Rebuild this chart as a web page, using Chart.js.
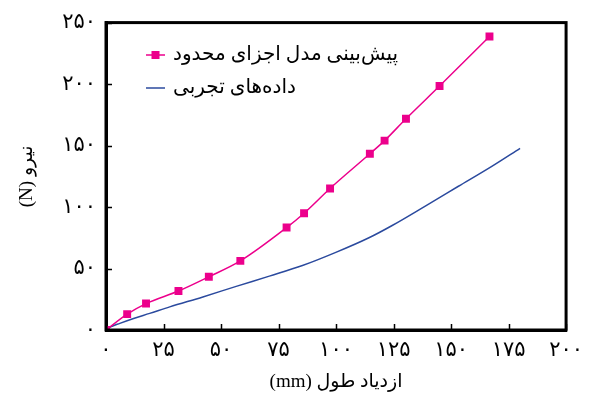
<!DOCTYPE html>
<html>
<head>
<meta charset="utf-8">
<script src="https://cdn.jsdelivr.net/npm/chart.js@4/dist/chart.umd.min.js"></script>
<style>
  html, body { margin: 0; padding: 0; background: #fff; }
  #wrap { width: 591px; height: 393px; }
</style>
</head>
<body>
<div id="wrap"><canvas id="c"></canvas></div>
<script>
// Finite-element prediction (force vs. elongation)
const femX = [0, 9.2, 17.4, 31.5, 44.7, 58.4, 78.5, 86.1, 97.4, 114.7, 121.1, 130.4, 145.0, 166.7];
const femY = [0, 12.9, 21.5, 31.7, 43.3, 56.2, 83.3, 95.0, 115.1, 143.3, 154.0, 171.8, 198.4, 238.7];

// Experimental curve
const testX = [0, 2, 6, 12, 19, 27.7, 42.1, 56.6, 71.0, 85.4, 99.9, 114.3, 124.4, 138.8, 153.2, 167.7, 180.0];
const testY = [0, 2.5, 5.4, 9.4, 13.5, 18.8, 26.9, 35.5, 43.8, 52.4, 63.1, 75.0, 85.0, 100.8, 116.9, 133.1, 147.8];

// Axes
const xTicks = [0, 25, 50, 75, 100, 125, 150, 175, 200];
const xTickLabels = ['۰', '۲۵', '۵۰', '۷۵', '۱۰۰', '۱۲۵', '۱۵۰', '۱۷۵', '۲۰۰'];
const yTicks = [0, 50, 100, 150, 200, 250];
const yTickLabels = ['۰', '۵۰', '۱۰۰', '۱۵۰', '۲۰۰', '۲۵۰'];

const seriesNames = ['پیش‌بینی مدل اجزای محدود', 'داده‌های تجربی'];
const xTitle = '(mm) ازدیاد طول';
const yTitle = '(N) نیرو';

const FONT = "'Liberation Serif', 'DejaVu Sans', serif";
const PINK = '#EC008C';
const BLUE = '#2B4A9E';

const toPoints = (xs, ys) => xs.map((x, i) => ({ x: x, y: ys[i] }));

// Frame, inward tick marks and the in-plot legend
const decorations = {
  id: 'decorations',
  afterDraw(chart) {
    const { ctx, chartArea: a, scales } = chart;
    ctx.save();
    ctx.strokeStyle = '#000';
    ctx.lineWidth = 1.5;
    ctx.beginPath();
    xTicks.forEach(v => {
      const px = Math.round(scales.x.getPixelForValue(v)) + 0.5;
      ctx.moveTo(px, a.bottom);
      ctx.lineTo(px, a.bottom - 6);
    });
    yTicks.forEach(v => {
      const py = Math.round(scales.y.getPixelForValue(v)) + 0.5;
      ctx.moveTo(a.left, py);
      ctx.lineTo(a.left + 6, py);
    });
    ctx.stroke();

    ctx.lineWidth = 3;
    ctx.strokeRect(a.left, a.top, a.right - a.left, a.bottom - a.top);

    // legend
    const rows = [55, 88];
    chart.data.datasets.forEach((ds, i) => {
      const y = rows[i];
      ctx.strokeStyle = ds.borderColor;
      ctx.lineWidth = 1.5;
      ctx.beginPath();
      ctx.moveTo(146, y);
      ctx.lineTo(165, y);
      ctx.stroke();
      if (ds.pointRadius > 0) {
        ctx.fillStyle = ds.backgroundColor;
        ctx.fillRect(151.5, y - 4, 8, 8);
      }
      ctx.fillStyle = '#000';
      ctx.font = '20px ' + FONT;
      ctx.direction = 'rtl';
      ctx.textAlign = 'left';
      ctx.textBaseline = 'middle';
      ctx.fillText(ds.label, 173, y);
    });
    ctx.restore();
  }
};

new Chart(document.getElementById('c'), {
  type: 'scatter',
  data: {
    datasets: [
      {
        label: seriesNames[0],
        data: toPoints(femX, femY),
        showLine: true,
        borderColor: PINK,
        backgroundColor: PINK,
        borderWidth: 1.5,
        pointStyle: 'rect',
        pointRadius: 5.6,
        pointBorderWidth: 0,
        cubicInterpolationMode: 'monotone'
      },
      {
        label: seriesNames[1],
        data: toPoints(testX, testY),
        showLine: true,
        borderColor: BLUE,
        backgroundColor: BLUE,
        borderWidth: 1.5,
        pointRadius: 0,
        cubicInterpolationMode: 'monotone'
      }
    ]
  },
  options: {
    responsive: true,
    maintainAspectRatio: false,
    animation: false,
    events: [],
    layout: { padding: { top: 20, right: 23, bottom: 0, left: 0 } },
    plugins: { legend: { display: false }, tooltip: { enabled: false } },
    scales: {
      x: {
        type: 'linear',
        min: 0,
        max: 200,
        afterBuildTicks: s => { s.ticks = xTicks.map(v => ({ value: v })); },
        afterFit: s => { s.height = 63; },
        ticks: {
          autoSkip: false,
          maxRotation: 0,
          padding: 8,
          color: '#000',
          font: { family: FONT, size: 21 },
          callback: v => xTickLabels[xTicks.indexOf(v)]
        },
        grid: { display: false, drawTicks: false },
        border: { display: true, color: '#000', width: 3 },
        title: {
          display: true,
          text: xTitle,
          color: '#000',
          font: { family: FONT, size: 19 },
          padding: { top: 2, bottom: 0 }
        }
      },
      y: {
        type: 'linear',
        min: 0,
        max: 250,
        afterBuildTicks: s => { s.ticks = yTicks.map(v => ({ value: v })); },
        afterFit: s => { s.width = 106; },
        ticks: {
          autoSkip: false,
          padding: 10,
          color: '#000',
          font: { family: FONT, size: 21 },
          callback: v => yTickLabels[yTicks.indexOf(v)]
        },
        grid: { display: false, drawTicks: false },
        border: { display: true, color: '#000', width: 3 },
        title: {
          display: true,
          text: yTitle,
          color: '#000',
          font: { family: FONT, size: 19 },
          padding: { top: 16, bottom: 0 }
        }
      }
    }
  },
  plugins: [decorations]
});
</script>
</body>
</html>
